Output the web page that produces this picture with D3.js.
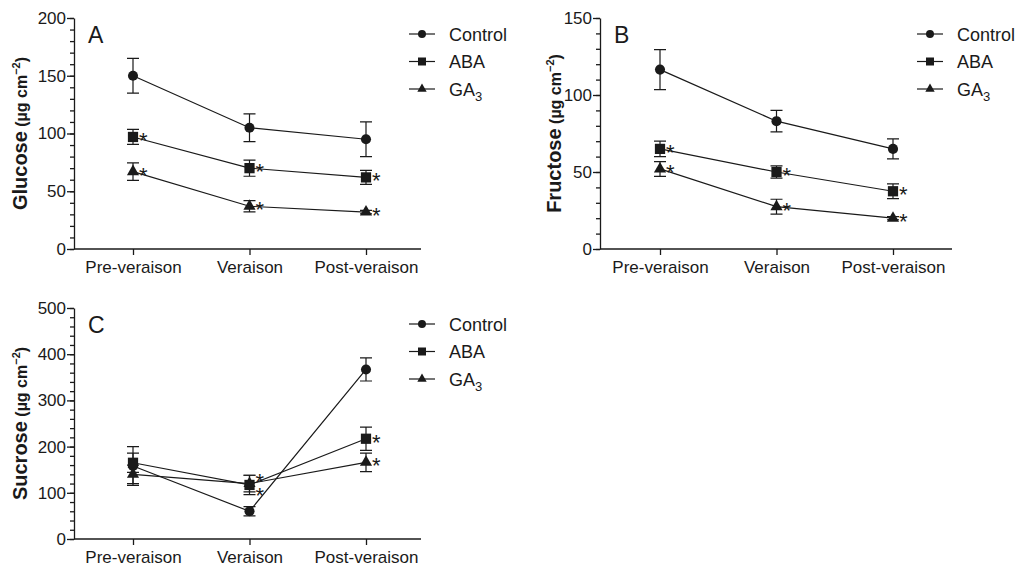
<!DOCTYPE html>
<html lang="en">
<head>
    <meta charset="UTF-8">
    <title>Sugar content</title>
    <script src="https://d3js.org/d3.v7.min.js"></script>
    <style>
        body {
            margin: 0;
            background-color: white;
            font-family: "Liberation Sans", Arial, Helvetica, sans-serif;
        }
        .axis path, .axis line {
            stroke: #1a1a1a;
            stroke-width: 1.3px;
        }
        .axis text {
            font-size: 17px;
            fill: #1a1a1a;
            font-family: "Liberation Sans", Arial, sans-serif;
        }
    </style>
</head>
<body>
    <div id="chart"></div>

    <script>
        // Data
        const categories = ["Pre-veraison", "Veraison", "Post-veraison"];
        const seriesNames = ["Control", "ABA", "GA3"];

        const glucoseControl = [150, 105, 95];
        const glucoseControlErr = [15, 12, 15];
        const glucoseABA = [97, 70, 62];
        const glucoseABAErr = [6.5, 7, 6];
        const glucoseGA3 = [67, 37, 32];
        const glucoseGA3Err = [7.5, 4.8, 1.5];
        const glucoseSig = {ABA: [1, 1, 1], GA3: [1, 1, 1]};

        const fructoseControl = [116.5, 83, 65];
        const fructoseControlErr = [13, 7, 6.5];
        const fructoseABA = [65, 50, 37.5];
        const fructoseABAErr = [5, 4, 4.8];
        const fructoseGA3 = [52, 27.5, 20];
        const fructoseGA3Err = [4.8, 4.8, 1];
        const fructoseSig = {ABA: [1, 1, 1], GA3: [1, 1, 1]};

        const sucroseControl = [158, 60, 367];
        const sucroseControlErr = [42, 10, 25];
        const sucroseABA = [165, 117, 217];
        const sucroseABAErr = [21, 21, 25];
        const sucroseGA3 = [140, 120, 166];
        const sucroseGA3Err = [20, 18, 20];
        const sucroseSig = {ABA: [0, 1, 1], GA3: [0, 1, 1]};

        const ink = "#1a1a1a";

        const svg = d3.select("#chart")
            .append("svg")
            .attr("width", 1018)
            .attr("height", 567);

        function drawPanel(p) {
            const g = svg.append("g");

            const x = d3.scalePoint()
                .domain(categories)
                .range([p.cat0, p.cat1]);

            const y = d3.scaleLinear()
                .domain([0, p.max])
                .range([p.bottom, p.top]);

            // minor y ticks
            g.append("g")
                .attr("class", "axis")
                .attr("transform", `translate(${p.left},0)`)
                .call(d3.axisLeft(y).tickValues(d3.range(0, p.max + 0.1, p.minor)).tickSize(4).tickFormat(""))
                .select(".domain").remove();

            // major y ticks
            g.append("g")
                .attr("class", "axis")
                .attr("transform", `translate(${p.left},0)`)
                .call(d3.axisLeft(y).tickValues(d3.range(0, p.max + 0.1, p.major)).tickSize(7).tickSizeOuter(0).tickPadding(1));

            // x axis
            const xa = g.append("g")
                .attr("class", "axis")
                .attr("transform", `translate(0,${p.bottom})`)
                .call(d3.axisBottom(x).tickSize(6).tickSizeOuter(0).tickPadding(6));
            xa.select(".domain").attr("d", `M${p.left},0H${p.right}`);

            // y axis title
            const title = g.append("text")
                .attr("transform", `translate(${p.titleX},${(p.top + p.bottom) / 2}) rotate(-90)`)
                .attr("text-anchor", "middle")
                .attr("font-weight", "bold")
                .attr("fill", ink);
            title.append("tspan").attr("font-size", "20px").text(p.title);
            title.append("tspan").attr("font-size", "16px").text(" (\u00b5g cm");
            title.append("tspan").attr("font-size", "11px").attr("dy", "-7").text("\u22122");
            title.append("tspan").attr("font-size", "16px").attr("dy", "7").text(")");

            // panel letter
            g.append("text")
                .attr("x", p.left + 14)
                .attr("y", p.top + 25)
                .attr("font-size", "23px")
                .attr("fill", ink)
                .text(p.letter);

            const symbols = {Control: d3.symbolCircle, ABA: d3.symbolSquare, GA3: d3.symbolTriangle};
            const sizes = {Control: 80, ABA: 105, GA3: 64};
            const legendSizes = {Control: 50, ABA: 64, GA3: 38};

            // connecting lines
            const line = d3.line()
                .x((d, i) => x(categories[i]))
                .y(d => y(d));

            seriesNames.forEach(name => {
                g.append("path")
                    .datum(p.values[name])
                    .attr("d", line)
                    .attr("fill", "none")
                    .attr("stroke", ink)
                    .attr("stroke-width", 1.2);
            });

            // error bars, markers, asterisks
            ["Control", "GA3", "ABA"].forEach(name => {
                const vals = p.values[name];
                const errs = p.errors[name];
                const eb = g.append("g");
                vals.forEach((v, i) => {
                    const cx = x(categories[i]);
                    const yt = y(v + errs[i]);
                    const yb = y(v - errs[i]);
                    eb.append("path")
                        .attr("d", `M${cx},${yt}V${yb}M${cx - 6},${yt}H${cx + 6}M${cx - 6},${yb}H${cx + 6}`)
                        .attr("stroke", ink)
                        .attr("stroke-width", 1.2)
                        .attr("fill", "none");
                });
                g.selectAll(null)
                    .data(vals)
                    .enter()
                    .append("path")
                    .attr("transform", (d, i) => `translate(${x(categories[i])},${y(d)})`)
                    .attr("d", d3.symbol().type(symbols[name]).size(sizes[name]))
                    .attr("fill", ink);

                if (p.sig[name]) {
                    vals.forEach((v, i) => {
                        if (!p.sig[name][i]) return;
                        const shift = (p.starShift[name] && p.starShift[name][i]) || -1.5;
                        g.append("text")
                            .attr("x", x(categories[i]) + 6)
                            .attr("y", y(v) + shift + 12.5)
                            .attr("font-size", "22px")
                            .attr("fill", ink)
                            .text("*");
                    });
                }
            });

            // legend
            seriesNames.forEach((name, i) => {
                const ly = p.legendY + i * 27.5;
                g.append("line")
                    .attr("x1", p.legendX)
                    .attr("x2", p.legendX + 26)
                    .attr("y1", ly)
                    .attr("y2", ly)
                    .attr("stroke", ink)
                    .attr("stroke-width", 1.2);
                g.append("path")
                    .attr("transform", `translate(${p.legendX + 13},${ly})`)
                    .attr("d", d3.symbol().type(symbols[name]).size(legendSizes[name]))
                    .attr("fill", ink);
                const t = g.append("text")
                    .attr("x", p.legendX + 40)
                    .attr("y", ly + 6.5)
                    .attr("font-size", "18px")
                    .attr("fill", ink);
                if (name === "GA3") {
                    t.append("tspan").text("GA");
                    t.append("tspan").attr("font-size", "13px").attr("dy", "5").text("3");
                } else {
                    t.text(name);
                }
            });
        }

        drawPanel({
            letter: "A", title: "Glucose", max: 200, major: 50, minor: 10,
            left: 74, right: 421, cat0: 133, cat1: 366, top: 18, bottom: 249, titleX: 27,
            legendX: 409, legendY: 34,
            values: {Control: glucoseControl, ABA: glucoseABA, GA3: glucoseGA3},
            errors: {Control: glucoseControlErr, ABA: glucoseABAErr, GA3: glucoseGA3Err},
            sig: glucoseSig, starShift: {}
        });

        drawPanel({
            letter: "B", title: "Fructose", max: 150, major: 50, minor: 10,
            left: 600, right: 952, cat0: 660, cat1: 893, top: 18, bottom: 249, titleX: 561,
            legendX: 917, legendY: 34,
            values: {Control: fructoseControl, ABA: fructoseABA, GA3: fructoseGA3},
            errors: {Control: fructoseControlErr, ABA: fructoseABAErr, GA3: fructoseGA3Err},
            sig: fructoseSig, starShift: {}
        });

        drawPanel({
            letter: "C", title: "Sucrose", max: 500, major: 100, minor: 20,
            left: 74, right: 421, cat0: 133, cat1: 366, top: 308, bottom: 539, titleX: 27,
            legendX: 409, legendY: 324,
            values: {Control: sucroseControl, ABA: sucroseABA, GA3: sucroseGA3},
            errors: {Control: sucroseControlErr, ABA: sucroseABAErr, GA3: sucroseGA3Err},
            sig: sucroseSig, starShift: {ABA: [0, -8.5, -1.5], GA3: [0, 6.5, -1.5]}
        });
    </script>
</body>
</html>
